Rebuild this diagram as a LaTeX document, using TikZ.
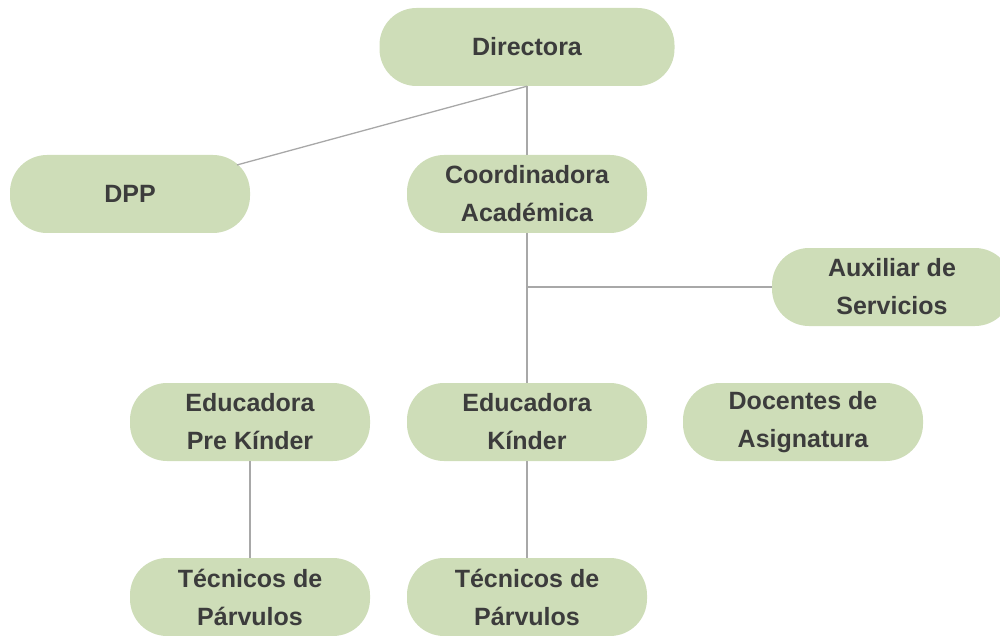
\documentclass[tikz,border=0pt]{standalone}
\usepackage{fontspec}
\setmainfont{Liberation Sans}
\usetikzlibrary{calc}
\definecolor{boxfill}{HTML}{CEDDB8}
\definecolor{txt}{HTML}{3C3C3C}
\definecolor{conn}{HTML}{A8A8A8}
\begin{document}
\begin{tikzpicture}[x=1pt,y=-1pt,
  pill/.style={fill=boxfill,draw=none,rounded corners=37pt,minimum height=78pt,
    minimum width=240pt,inner sep=0pt,align=center,text=txt,
    font=\fontsize{25}{38}\selectfont\bfseries},
  link/.style={draw=conn,line width=1.3pt}]
\useasboundingbox (0,0) rectangle (1000,636);
\node[pill,minimum width=295pt] (dir) at (527,47) {Directora};
\node[pill] (dpp) at (130,194) {DPP};
\node[pill] (coord) at (527,194) {Coordinadora\\Académica};
\node[pill] (aux) at (892,287) {Auxiliar de\\Servicios};
\node[pill] (pre) at (250,422) {Educadora\\Pre Kínder};
\node[pill] (kin) at (527,422) {Educadora\\Kínder};
\node[pill] (doc) at (803,422) {Docentes de\\Asignatura};
\node[pill] (tec1) at (250,597) {Técnicos de\\Párvulos};
\node[pill] (tec2) at (527,597) {Técnicos de\\Párvulos};
\coordinate (j) at (coord.south |- aux.west);
\coordinate (dppend) at ($(dir.south)!0.7305!(dpp.center)$);
\draw[link] (dir.south) -- (dppend);
\draw[link] (dir.south) -- (coord.north);
\draw[link] (coord.south) -- (kin.north);
\draw[link] (j) -- (aux.west);
\draw[link] (pre.south) -- (tec1.north);
\draw[link] (kin.south) -- (tec2.north);
\end{tikzpicture}
\end{document}
